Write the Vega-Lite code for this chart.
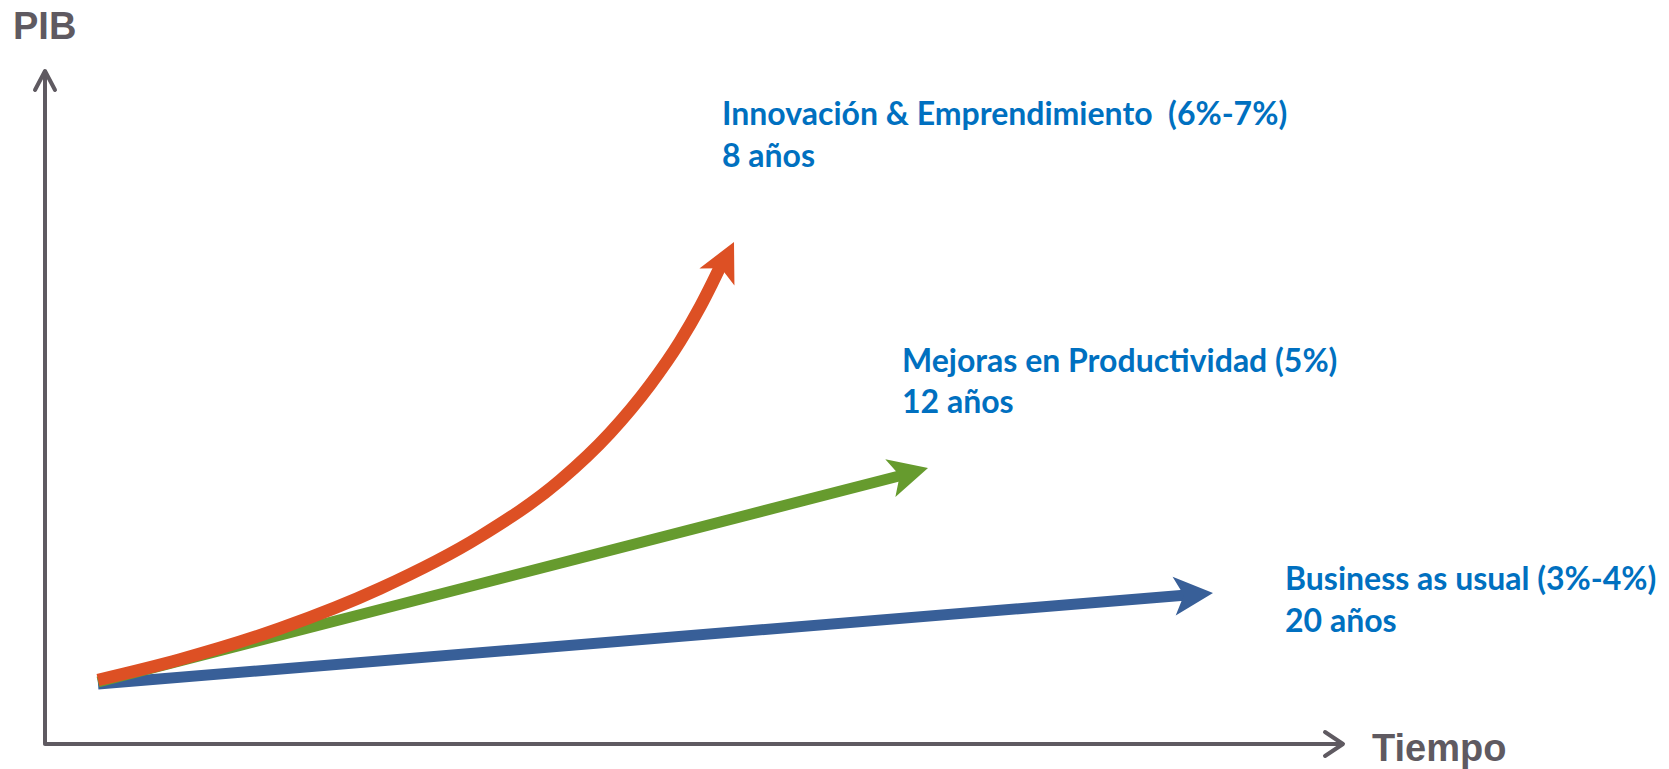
{
  "$schema": "https://vega.github.io/schema/vega-lite/v6.json",
  "width": 1669,
  "height": 769,
  "autosize": {"type": "fit", "contains": "padding"},
  "padding": 0,
  "background": "white",
  "config": {"view": {"stroke": null}},
  "datasets": {
    "ejes": [
      {"parte": "y", "i": 0, "t": 45, "pib": 26},
      {"parte": "y", "i": 1, "t": 45, "pib": 697},
      {"parte": "yflecha", "i": 0, "t": 35, "pib": 679},
      {"parte": "yflecha", "i": 1, "t": 45, "pib": 698},
      {"parte": "yflecha", "i": 2, "t": 55, "pib": 679},
      {"parte": "x", "i": 0, "t": 45, "pib": 25},
      {"parte": "x", "i": 1, "t": 1342, "pib": 25},
      {"parte": "xflecha", "i": 0, "t": 1325, "pib": 37},
      {"parte": "xflecha", "i": 1, "t": 1343, "pib": 25},
      {"parte": "xflecha", "i": 2, "t": 1325, "pib": 13}
    ],
    "curvas": [
      {"serie": "Business as usual", "i": 0, "t": 98, "pib": 85},
      {"serie": "Business as usual", "i": 1, "t": 1187, "pib": 174},
      {"serie": "Mejoras en Productividad", "i": 0, "t": 98, "pib": 87},
      {"serie": "Mejoras en Productividad", "i": 1, "t": 903, "pib": 294},
      {"serie": "Innovación & Emprendimiento", "i": 0, "t": 98, "pib": 89},
      {"serie": "Innovación & Emprendimiento", "i": 1, "t": 180, "pib": 109.5},
      {"serie": "Innovación & Emprendimiento", "i": 2, "t": 280, "pib": 140.5},
      {"serie": "Innovación & Emprendimiento", "i": 3, "t": 380, "pib": 180.5},
      {"serie": "Innovación & Emprendimiento", "i": 4, "t": 480, "pib": 232.5},
      {"serie": "Innovación & Emprendimiento", "i": 5, "t": 560, "pib": 288.5},
      {"serie": "Innovación & Emprendimiento", "i": 6, "t": 610, "pib": 336},
      {"serie": "Innovación & Emprendimiento", "i": 7, "t": 650, "pib": 384},
      {"serie": "Innovación & Emprendimiento", "i": 8, "t": 680, "pib": 427.5},
      {"serie": "Innovación & Emprendimiento", "i": 9, "t": 700, "pib": 462},
      {"serie": "Innovación & Emprendimiento", "i": 10, "t": 712, "pib": 485.4},
      {"serie": "Innovación & Emprendimiento", "i": 11, "t": 721, "pib": 504}
    ],
    "puntas": [
      {"serie": "Business as usual", "t": 1213, "pib": 176},
      {"serie": "Mejoras en Productividad", "t": 928, "pib": 301},
      {"serie": "Innovación & Emprendimiento", "t": 734, "pib": 527}
    ],
    "etiquetas": [
      {"texto": "Innovación & Emprendimiento\u00a0 (6%-7%)", "t": 722, "pib": 644},
      {"texto": "8 años", "t": 722, "pib": 602},
      {"texto": "Mejoras en Productividad (5%)", "t": 902, "pib": 397},
      {"texto": "12 años", "t": 902, "pib": 356},
      {"texto": "Business as usual (3%-4%)", "t": 1285, "pib": 179},
      {"texto": "20 años", "t": 1285, "pib": 137}
    ],
    "titulos": [
      {"texto": "PIB", "t": 13, "pib": 730},
      {"texto": "Tiempo", "t": 1372, "pib": 8}
    ]
  },
  "encoding": {
    "x": {"field": "t", "type": "quantitative", "scale": {"domain": [0, 1669], "nice": false, "zero": false}, "axis": null},
    "y": {"field": "pib", "type": "quantitative", "scale": {"domain": [0, 769], "nice": false, "zero": false}, "axis": null}
  },
  "layer": [
    {
      "data": {"name": "ejes"},
      "mark": {"type": "line", "color": "#5f5a61", "strokeWidth": 4, "strokeCap": "round", "strokeJoin": "round"},
      "encoding": {"detail": {"field": "parte"}, "order": {"field": "i", "type": "quantitative"}}
    },
    {
      "data": {"name": "curvas"},
      "transform": [{"filter": "datum.serie === 'Business as usual'"}],
      "mark": {"type": "line", "color": "#385f98", "strokeWidth": 11, "strokeCap": "butt"},
      "encoding": {"order": {"field": "i", "type": "quantitative"}}
    },
    {
      "data": {"name": "puntas"},
      "transform": [{"filter": "datum.serie === 'Business as usual'"}],
      "mark": {"type": "point", "shape": "M0,0L-2,-1L-1.5,0L-2,1Z", "filled": true, "opacity": 1, "color": "#385f98", "size": 1521, "angle": -4.6, "strokeWidth": 0}
    },
    {
      "data": {"name": "curvas"},
      "transform": [{"filter": "datum.serie === 'Mejoras en Productividad'"}],
      "mark": {"type": "line", "color": "#669b2e", "strokeWidth": 11, "strokeCap": "butt"},
      "encoding": {"order": {"field": "i", "type": "quantitative"}}
    },
    {
      "data": {"name": "puntas"},
      "transform": [{"filter": "datum.serie === 'Mejoras en Productividad'"}],
      "mark": {"type": "point", "shape": "M0,0L-2,-1L-1.5,0L-2,1Z", "filled": true, "opacity": 1, "color": "#669b2e", "size": 1521, "angle": -15, "strokeWidth": 0}
    },
    {
      "data": {"name": "curvas"},
      "transform": [{"filter": "datum.serie === 'Innovación & Emprendimiento'"}],
      "mark": {"type": "line", "color": "#dd5024", "strokeWidth": 12.5, "strokeCap": "butt", "interpolate": "monotone"},
      "encoding": {"order": {"field": "i", "type": "quantitative"}}
    },
    {
      "data": {"name": "puntas"},
      "transform": [{"filter": "datum.serie === 'Innovación & Emprendimiento'"}],
      "mark": {"type": "point", "shape": "M0,0L-2,-1L-1.5,0L-2,1Z", "filled": true, "opacity": 1, "color": "#dd5024", "size": 1521, "angle": -64, "strokeWidth": 0}
    },
    {
      "data": {"name": "etiquetas"},
      "mark": {"type": "text", "align": "left", "baseline": "alphabetic", "font": "Lato", "fontWeight": "bold", "fontSize": 32, "color": "#0070c0"},
      "encoding": {"text": {"field": "texto"}}
    },
    {
      "data": {"name": "titulos"},
      "mark": {"type": "text", "align": "left", "baseline": "alphabetic", "font": "Liberation Sans", "fontWeight": "bold", "fontSize": 38, "color": "#5f5a61"},
      "encoding": {"text": {"field": "texto"}}
    }
  ]
}
